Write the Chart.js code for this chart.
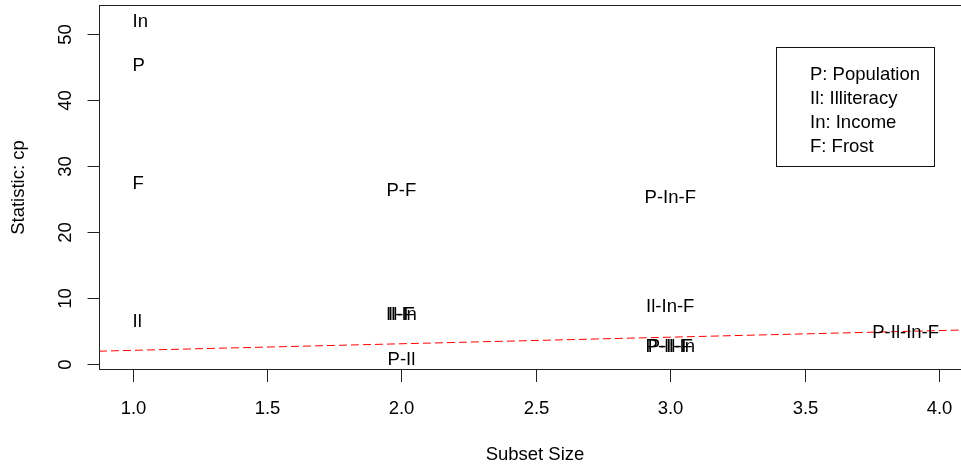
<!DOCTYPE html>
<html>
<head>
<meta charset="utf-8">
<script src="https://cdn.jsdelivr.net/npm/chart.js@4.4.1/dist/chart.umd.min.js"></script>
<style>
  html, body { margin: 0; padding: 0; background: #fff; overflow: hidden; }
  canvas { display: block; }
</style>
</head>
<body>
<canvas id="cpChart" width="970" height="467"></canvas>
<script>
// subsets and their Cp statistic
const subsetLabels = ['In', 'P', 'F', 'Il', 'P-F', 'Il-F', 'Il-In', 'P-Il', 'P-In-F', 'Il-In-F', 'P-Il-F', 'P-Il-In', 'P-Il-In-F'];
const subsetSize = [1, 1, 1, 1, 2, 2, 2, 2, 3, 3, 3, 3, 4];
const cpValues = [52.25, 45.55, 27.7, 6.7, 26.6, 7.75, 7.7, 1.0, 25.45, 9.05, 2.9, 2.85, 5.0];

const legendLines = ['P: Population', 'Il: Illiteracy', 'In: Income', 'F: Frost'];
const xTicks = [1, 1.5, 2, 2.5, 3, 3.5, 4];
const xTickLabels = ['1.0', '1.5', '2.0', '2.5', '3.0', '3.5', '4.0'];
const yTicks = [0, 10, 20, 30, 40, 50];
const yTickLabels = ['0', '10', '20', '30', '40', '50'];

// reference line Cp = p  (y = x + 1)
const refIntercept = 1;
const refSlope = 1;

const X_MIN = 0.875, X_MAX = 4.115;
const Y_MIN = -0.83, Y_MAX = 54.25;

const FONT = "'Liberation Sans', Arial, sans-serif";
const FS = 18.5;
const CAP = FS * 0.716;
const minSize = Math.min(...subsetSize), maxSize = Math.max(...subsetSize);

function capText(ctx, txt, x, yCenter, align) {
    ctx.textAlign = align;
    ctx.textBaseline = 'alphabetic';
    ctx.fillText(txt, x, yCenter + CAP / 2);
}

function rotText(ctx, txt, xCenter, yCenter) {
    ctx.save();
    ctx.translate(xCenter, yCenter);
    ctx.rotate(-Math.PI / 2);
    capText(ctx, txt, 0, 0, 'center');
    ctx.restore();
}

const rDecor = {
    id: 'rDecor',
    afterDatasetsDraw(chart) {
        const { ctx, chartArea: a, scales: { x, y } } = chart;
        ctx.save();
        ctx.fillStyle = '#000';
        ctx.strokeStyle = '#222';
        ctx.lineWidth = 1;
        ctx.font = FS + 'px ' + FONT;

        // box
        ctx.strokeRect(a.left + 0.5, a.top - 0.5, a.right - a.left, a.bottom - a.top + 1);

        // x ticks
        xTicks.forEach((v, i) => {
            const px = Math.round(x.getPixelForValue(v)) + 0.5;
            ctx.beginPath(); ctx.moveTo(px, a.bottom + 0.5); ctx.lineTo(px, a.bottom + 13); ctx.stroke();
            capText(ctx, xTickLabels[i], px, 407, 'center');
        });
        // y ticks
        yTicks.forEach((v, i) => {
            const py = Math.round(y.getPixelForValue(v)) + 0.5;
            ctx.beginPath(); ctx.moveTo(a.left + 0.5, py); ctx.lineTo(a.left - 11.5, py); ctx.stroke();
            rotText(ctx, yTickLabels[i], 64, py);
        });

        // axis titles
        capText(ctx, 'Subset Size', 535, 453, 'center');
        rotText(ctx, 'Statistic: cp', 17.5, (a.top + a.bottom) / 2);

        // subset labels
        subsetLabels.forEach((lab, i) => {
            const px = x.getPixelForValue(subsetSize[i]);
            const py = y.getPixelForValue(cpValues[i]) + 1;
            const align = subsetSize[i] === minSize ? 'left' : (subsetSize[i] === maxSize ? 'right' : 'center');
            capText(ctx, lab, px, py, align);
        });

        // legend
        ctx.strokeStyle = '#111';
        ctx.strokeRect(776.5, 47.5, 158, 119);
        legendLines.forEach((t, i) => capText(ctx, t, 810, 73 + i * 24, 'left'));
        ctx.restore();
    }
};

new Chart(document.getElementById('cpChart'), {
    type: 'scatter',
    data: {
        datasets: [
            {
                label: 'Cp',
                data: subsetSize.map((s, i) => ({ x: s, y: cpValues[i] })),
                pointRadius: 0, showLine: false
            },
            {
                type: 'line',
                label: 'Cp = p',
                data: [X_MIN, X_MAX].map(v => ({ x: v, y: refIntercept + refSlope * v })),
                borderColor: '#ff0000', borderWidth: 1, borderDash: [8, 4],
                pointRadius: 0, fill: false, tension: 0
            }
        ]
    },
    options: {
        responsive: false, animation: false, devicePixelRatio: 1,
        layout: { padding: { left: 99, top: 6, right: 0, bottom: 98 } },
        plugins: { legend: { display: false }, tooltip: { enabled: false } },
        scales: {
            x: { type: 'linear', min: X_MIN, max: X_MAX, display: false },
            y: { type: 'linear', min: Y_MIN, max: Y_MAX, display: false }
        }
    },
    plugins: [rDecor]
});
</script>
</body>
</html>
